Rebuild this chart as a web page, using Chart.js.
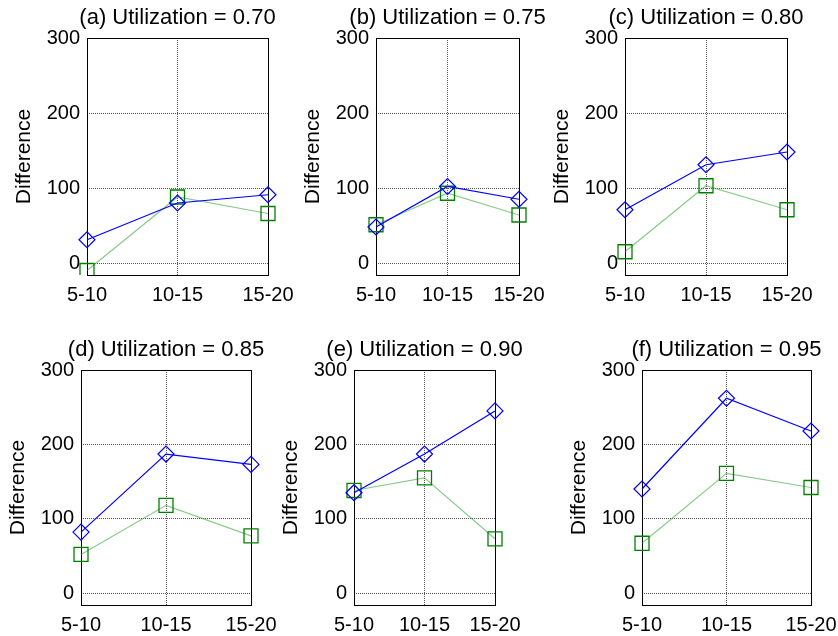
<!DOCTYPE html>
<html>
<head>
<meta charset="utf-8">
<script src="https://cdn.jsdelivr.net/npm/chart.js@4"></script>
<style>
  body { margin: 0; background: #fff; }
  #wrap { position: relative; width: 838px; height: 636px; overflow: hidden; background: #fff; }
  #wrap canvas { position: absolute; }
</style>
</head>
<body>
<div id="wrap"></div>
<script>
const categories = ['5-10', '10-15', '15-20'];
const panelTitles = [
    '(a) Utilization = 0.70', '(b) Utilization = 0.75', '(c) Utilization = 0.80',
    '(d) Utilization = 0.85', '(e) Utilization = 0.90', '(f) Utilization = 0.95'
];
const diamondSeries = [
    [31, 80, 91],
    [48, 102, 85],
    [71, 131, 148],
    [82, 187, 173],
    [135, 187, 245],
    [140, 262, 218]
];
const squareSeries = [
    [-10, 88, 66],
    [51, 93, 64],
    [15, 103, 71],
    [52, 118, 77],
    [138, 155, 73],
    [67, 161, 142]
];
const yTicks = [0, 100, 200, 300];
const yMin = -16, yMax = 300;

// plot-area boxes in the page: left, top, width, height
const boxes = [
    [87, 38, 181, 237], [376, 38, 143, 237], [625, 38, 162, 237],
    [81, 370, 170, 235], [354, 370, 141, 235], [642, 370, 169, 235]
];

const FONT = 'Liberation Sans, Arial, Helvetica, sans-serif';
const SIDE_W = 80, TITLE_H = 34, BOTTOM_H = 40;

// solid box round the plot area (MATLAB "box on")
const frame = {
    id: 'frame',
    beforeDatasetsDraw(chart) {
        const a = chart.chartArea, ctx = chart.ctx;
        ctx.save();
        ctx.strokeStyle = '#000';
        ctx.lineWidth = 1;
        ctx.strokeRect(Math.round(a.left) + 0.5, Math.round(a.top) + 0.5,
            Math.round(a.right - a.left), Math.round(a.bottom - a.top));
        ctx.restore();
    }
};

function makePanel(i) {
    const [l, t, w, h] = boxes[i];
    const canvas = document.createElement('canvas');
    canvas.width = SIDE_W + w + SIDE_W;
    canvas.height = TITLE_H + h + BOTTOM_H;
    canvas.style.left = (l - SIDE_W) + 'px';
    canvas.style.top = (t - TITLE_H) + 'px';
    document.getElementById('wrap').appendChild(canvas);

    new Chart(canvas.getContext('2d'), {
        type: 'line',
        data: {
            labels: categories,
            datasets: [
                {
                    data: diamondSeries[i],
                    borderColor: '#0000ff',
                    borderWidth: 1.2,
                    pointStyle: 'rectRot',
                    pointRadius: 8,
                    pointBorderColor: '#0000ff',
                    pointBackgroundColor: 'rgba(0,0,0,0)',
                    pointBorderWidth: 1.2
                },
                {
                    data: squareSeries[i],
                    borderColor: 'rgba(40,160,40,0.55)',
                    borderWidth: 1.2,
                    pointStyle: 'rect',
                    pointRadius: 9.9,
                    pointBorderColor: '#008000',
                    pointBackgroundColor: 'rgba(0,0,0,0)',
                    pointBorderWidth: 1.3
                }
            ]
        },
        options: {
            responsive: false,
            animation: false,
            devicePixelRatio: 1,
            layout: { padding: 0 },
            elements: { line: { tension: 0 } },
            plugins: {
                legend: { display: false },
                tooltip: { enabled: false },
                title: {
                    display: true,
                    text: panelTitles[i],
                    color: '#000',
                    font: { family: FONT, size: 22, weight: 'normal' },
                    padding: { top: 1, bottom: 6.6 }
                }
            },
            scales: {
                x: {
                    offset: false,
                    grid: { color: '#555', lineWidth: 1, drawTicks: false },
                    border: { display: false, dash: [1, 1] },
                    ticks: { color: '#000', font: { family: FONT, size: 20 }, padding: 8, maxRotation: 0 },
                    afterFit: axis => { axis.height = BOTTOM_H; }
                },
                y: {
                    min: yMin,
                    max: yMax,
                    grid: { color: '#555', lineWidth: 1, drawTicks: false },
                    border: { display: false, dash: [1, 1] },
                    ticks: { color: '#000', font: { family: FONT, size: 20 }, padding: 7 },
                    afterBuildTicks: axis => { axis.ticks = yTicks.map(v => ({ value: v })); },
                    afterFit: axis => { axis.width = SIDE_W; },
                    title: {
                        display: true,
                        text: 'Difference',
                        color: '#000',
                        font: { family: FONT, size: 21 },
                        padding: { top: 5, bottom: 0 }
                    }
                },
                // empty right-hand margin so the title centres over the plot
                yr: {
                    position: 'right',
                    grid: { display: false },
                    border: { display: false },
                    ticks: { display: false },
                    afterFit: axis => { axis.width = SIDE_W; }
                }
            }
        },
        plugins: [frame]
    });
}

for (let i = 0; i < 6; i++) makePanel(i);
</script>
</body>
</html>
